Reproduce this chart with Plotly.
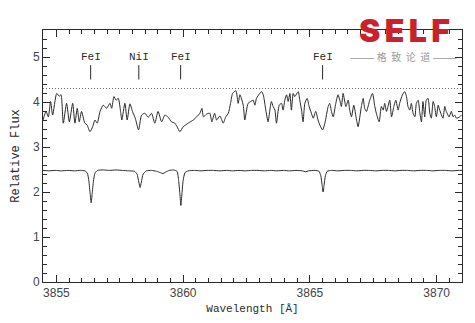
import plotly.graph_objects as go

# Upper spectrum (observed star)
upper_wave = [
    3854.47, 3854.59, 3854.68, 3854.77, 3854.85, 3855.01, 3855.11, 3855.18, 3855.27, 3855.40,
    3855.51, 3855.64, 3855.73, 3855.82, 3855.90, 3855.99, 3856.12, 3856.21, 3856.32, 3856.43,
    3856.52, 3856.61, 3856.72, 3856.85, 3856.98, 3857.11, 3857.18, 3857.27, 3857.35, 3857.44,
    3857.53, 3857.58, 3857.70, 3857.79, 3857.90, 3858.00, 3858.11, 3858.24, 3858.36, 3858.49,
    3858.62, 3858.75, 3858.88, 3859.01, 3859.15, 3859.28, 3859.41, 3859.54, 3859.67, 3859.76,
    3859.87, 3860.00, 3860.20, 3860.40, 3860.53, 3860.66, 3860.74, 3860.80, 3860.92, 3861.05,
    3861.13, 3861.24, 3861.32, 3861.45, 3861.58, 3861.68, 3861.78, 3861.87, 3861.95, 3862.08,
    3862.17, 3862.24, 3862.37, 3862.43, 3862.56, 3862.66, 3862.76, 3862.83, 3862.89, 3863.02,
    3863.09, 3863.16, 3863.26, 3863.35, 3863.42, 3863.48, 3863.55, 3863.62, 3863.68, 3863.79,
    3863.88, 3863.94, 3864.01, 3864.08, 3864.14, 3864.21, 3864.27, 3864.34, 3864.40, 3864.54,
    3864.60, 3864.67, 3864.73, 3864.80, 3864.89, 3864.97, 3865.06, 3865.13, 3865.23, 3865.32,
    3865.39, 3865.50, 3865.59, 3865.72, 3865.78, 3865.85, 3865.92, 3866.02, 3866.11, 3866.18,
    3866.24, 3866.31, 3866.42, 3866.51, 3866.57, 3866.64, 3866.73, 3866.84, 3866.90, 3867.03,
    3867.10, 3867.16, 3867.23, 3867.36, 3867.47, 3867.56, 3867.62, 3867.73, 3867.82, 3867.89,
    3867.95, 3868.02, 3868.08, 3868.15, 3868.22, 3868.31, 3868.39, 3868.48, 3868.54, 3868.65,
    3868.74, 3868.81, 3868.87, 3868.94, 3869.00, 3869.07, 3869.14, 3869.20, 3869.27, 3869.33,
    3869.40, 3869.46, 3869.53, 3869.59, 3869.66, 3869.73, 3869.79, 3869.86, 3869.92, 3869.99,
    3870.06, 3870.12, 3870.25, 3870.32, 3870.38, 3870.49, 3870.58, 3870.65, 3870.71, 3870.78,
    3870.91, 3870.98,
]
upper_flux = [
    3.60, 3.79, 3.67, 4.01, 3.71, 4.19, 4.13, 4.16, 3.53, 3.97,
    3.56, 3.97, 3.53, 3.86, 3.56, 3.79, 3.53, 3.49, 3.34, 3.45,
    3.60, 3.53, 3.79, 3.93, 3.86, 3.97, 3.86, 4.12, 4.04, 4.08,
    3.79, 3.60, 3.97, 3.60, 3.96, 3.79, 3.64, 3.38, 3.71, 3.75,
    3.66, 3.75, 3.53, 3.79, 3.56, 3.71, 3.66, 3.56, 3.53, 3.45,
    3.34, 3.45, 3.53, 3.60, 3.67, 3.75, 3.86, 3.67, 3.73, 3.75,
    3.56, 3.75, 3.60, 3.69, 3.53, 3.67, 3.75, 3.97, 4.19, 4.25,
    3.97, 4.16, 3.93, 3.60, 3.97, 4.01, 4.04, 3.93, 4.08, 4.19,
    4.23, 4.16, 3.82, 3.56, 3.82, 4.01, 3.90, 3.82, 3.53, 3.93,
    3.97, 3.82, 4.04, 4.16, 4.01, 4.19, 3.82, 4.19, 4.12, 4.23,
    4.04, 3.82, 3.56, 3.97, 4.08, 3.90, 3.75, 3.64, 3.79, 3.60,
    3.49, 3.38, 3.53, 3.90, 3.97, 3.79, 3.67, 3.97, 4.16, 4.04,
    3.90, 4.19, 3.90, 4.04, 3.82, 3.67, 3.93, 3.60, 3.45, 3.90,
    4.08, 3.86, 3.79, 4.04, 4.19, 3.90, 3.75, 3.56, 3.90, 3.82,
    3.97, 3.79, 3.90, 4.04, 3.67, 3.90, 4.04, 3.82, 3.97, 4.16,
    4.23, 4.12, 3.90, 3.82, 3.97, 3.75, 3.67, 3.97, 4.04, 3.79,
    3.56, 4.01, 3.67, 4.04, 4.08, 3.75, 3.64, 4.01, 3.90, 3.67,
    3.93, 3.82, 3.64, 3.90, 3.79, 3.67, 3.79, 3.67, 3.71, 3.64,
    3.67, 3.71,
]

# Lower spectrum (reference / synthetic)
lower_wave = [
    3854.47, 3854.70, 3854.95, 3855.20, 3855.45, 3855.70, 3855.95, 3856.12, 3856.22, 3856.28,
    3856.33, 3856.37, 3856.41, 3856.46, 3856.52, 3856.62, 3856.85, 3857.10, 3857.35, 3857.60,
    3857.85, 3858.08, 3858.18, 3858.25, 3858.30, 3858.35, 3858.42, 3858.55, 3858.75, 3858.95,
    3859.10, 3859.20, 3859.30, 3859.45, 3859.62, 3859.76, 3859.82, 3859.87, 3859.91, 3859.95,
    3860.00, 3860.07, 3860.20, 3860.45, 3860.70, 3860.95, 3861.20, 3861.45, 3861.70, 3861.95,
    3862.20, 3862.45, 3862.70, 3862.95, 3863.20, 3863.45, 3863.70, 3863.95, 3864.20, 3864.45,
    3864.70, 3864.82, 3864.95, 3865.20, 3865.36, 3865.43, 3865.48, 3865.52, 3865.56, 3865.61,
    3865.68, 3865.85, 3866.10, 3866.35, 3866.60, 3866.85, 3867.10, 3867.35, 3867.60, 3867.85,
    3868.10, 3868.35, 3868.60, 3868.85, 3869.10, 3869.35, 3869.60, 3869.85, 3870.10, 3870.35,
    3870.60, 3870.85, 3871.00,
]
lower_flux = [
    2.48, 2.47, 2.48, 2.47, 2.48, 2.47, 2.48, 2.47, 2.42, 2.24,
    1.96, 1.76, 1.96, 2.24, 2.42, 2.48, 2.49, 2.48, 2.49, 2.48,
    2.47, 2.46, 2.40, 2.22, 2.10, 2.22, 2.40, 2.47, 2.48, 2.46,
    2.43, 2.41, 2.44, 2.48, 2.49, 2.46, 2.26, 1.96, 1.70, 1.96,
    2.26, 2.43, 2.47, 2.48, 2.47, 2.48, 2.48, 2.47, 2.48, 2.47,
    2.48, 2.47, 2.48, 2.48, 2.47, 2.48, 2.47, 2.48, 2.47, 2.48,
    2.47, 2.45, 2.47, 2.48, 2.46, 2.36, 2.16, 2.00, 2.16, 2.36,
    2.46, 2.48, 2.47, 2.48, 2.48, 2.47, 2.48, 2.48, 2.47, 2.48,
    2.48, 2.47, 2.48, 2.48, 2.47, 2.48, 2.48, 2.47, 2.48, 2.48,
    2.47, 2.48, 2.48,
]
assert len(upper_wave) == len(upper_flux)
assert len(lower_wave) == len(lower_flux)

# Line identifications
line_names = ["FeI", "NiI", "FeI", "FeI"]
line_waves = [3856.35, 3858.25, 3859.90, 3865.50]
marker_lo, marker_hi, label_y = 4.50, 4.82, 5.0
continuum_level = 4.30

x_range = [3854.47, 3871.0]
y_range = [0, 5.6]

ink = "#2a2a2a"
mono = "Liberation Mono, Courier New, monospace"
sans = "Liberation Sans, Arial, sans-serif"

fig = go.Figure()

fig.add_trace(go.Scatter(
    x=upper_wave, y=upper_flux, mode="lines",
    line=dict(color=ink, width=1, shape="spline", smoothing=0.6),
    showlegend=False, hoverinfo="skip",
))
fig.add_trace(go.Scatter(
    x=lower_wave, y=lower_flux, mode="lines",
    line=dict(color=ink, width=1, shape="spline", smoothing=0.5),
    showlegend=False, hoverinfo="skip",
))
# dotted continuum guide
fig.add_trace(go.Scatter(
    x=x_range, y=[continuum_level, continuum_level], mode="lines",
    line=dict(color="#444", width=0.8, dash="1px,2px"),
    showlegend=False, hoverinfo="skip",
))
# identification ticks
mx, my = [], []
for w in line_waves:
    mx += [w, w, None]
    my += [marker_lo, marker_hi, None]
fig.add_trace(go.Scatter(
    x=mx, y=my, mode="lines", line=dict(color=ink, width=1),
    showlegend=False, hoverinfo="skip",
))
for name, w in zip(line_names, line_waves):
    fig.add_annotation(x=w, y=label_y, text=name, showarrow=False,
                       font=dict(family=mono, size=11, color=ink),
                       xanchor="center", yanchor="middle")

# logo
fig.add_annotation(xref="paper", yref="paper", x=0.862, y=1.0,
                   text="S\u2009E\u2009L\u2009F", showarrow=False,
                   font=dict(family="Inter, Lato, sans-serif", size=32, color="#c8232c", weight=900),
                   xanchor="center", yanchor="middle")
fig.add_annotation(xref="paper", yref="paper", x=0.862, y=0.895,
                   text="——— 格  致  论  道 ———", showarrow=False,
                   font=dict(family="Noto Sans CJK SC", size=10, color="#9a9a9a"),
                   xanchor="center", yanchor="middle")

axis_common = dict(
    showline=True, linecolor=ink, linewidth=1, mirror="allticks",
    ticks="inside", ticklen=7, tickcolor=ink, tickwidth=1,
    showgrid=False, zeroline=False,
    tickfont=dict(family=sans, size=12, color="#444"),
)
fig.update_xaxes(
    range=x_range, tick0=3855, dtick=5,
    minor=dict(ticks="inside", ticklen=4, tickcolor=ink, dtick=0.5, tick0=3855, showgrid=False),
    title=dict(text="Wavelength [Å]", font=dict(family=mono, size=11, color=ink), standoff=4),
    **axis_common,
)
fig.update_yaxes(
    range=y_range, tick0=0, dtick=1,
    minor=dict(ticks="inside", ticklen=4, tickcolor=ink, dtick=0.2, tick0=0, showgrid=False),
    title=dict(text="Relative Flux", font=dict(family=mono, size=12, color=ink), standoff=10),
    **axis_common,
)

fig.update_layout(
    width=475, height=323,
    margin=dict(l=43, r=13, t=30, b=41),
    paper_bgcolor="white", plot_bgcolor="white",
)

fig.write_html("out.html")
